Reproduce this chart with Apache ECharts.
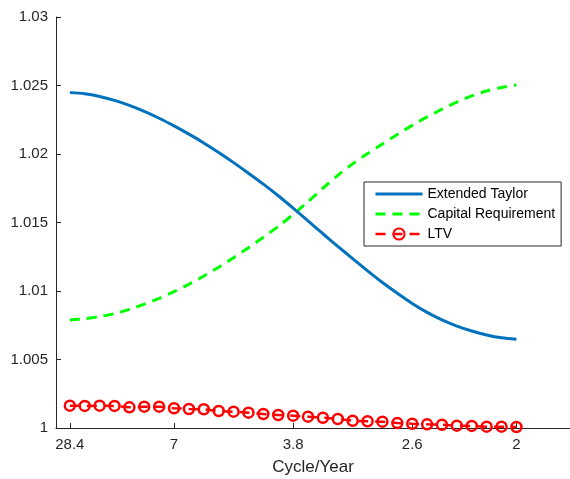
<!DOCTYPE html>
<html>
<head>
<meta charset="utf-8">
<script src="https://cdn.jsdelivr.net/npm/echarts@6/dist/echarts.min.js"></script>
<style>
  html, body { margin: 0; padding: 0; background: #fff; }
  #chart { width: 570px; height: 479px; }
</style>
</head>
<body>
<div id="chart"></div>
<script>
// Frequency grid index (31 points) and the cycle-length tick labels
const tickPositions = [0, 7, 15, 23, 30];
const tickLabels = ['28.4', '7', '3.8', '2.6', '2'];

const extendedTaylor = [
  1.02448, 1.02440, 1.02420, 1.02391, 1.02355, 1.02311, 1.02261, 1.02205,
  1.02145, 1.02081, 1.02011, 1.01937, 1.01860, 1.01780, 1.01695, 1.01605,
  1.01512, 1.01418, 1.01326, 1.01236, 1.01147, 1.01062, 1.00983, 1.00909,
  1.00844, 1.00789, 1.00744, 1.00708, 1.00679, 1.00658, 1.00647
];

const capitalRequirement = [
  1.00788, 1.00798, 1.00813, 1.00835, 1.00866, 1.00904, 1.00947, 1.00995,
  1.01049, 1.01109, 1.01174, 1.01243, 1.01316, 1.01392, 1.01472, 1.01558,
  1.01652, 1.01750, 1.01844, 1.01928, 1.02003, 1.02073, 1.02142, 1.02209,
  1.02271, 1.02327, 1.02379, 1.02424, 1.02460, 1.02486, 1.02504
];

const ltv = [
  1.00163, 1.00161, 1.00163, 1.00161, 1.00151, 1.00156, 1.00156, 1.00144,
  1.00139, 1.00137, 1.00124, 1.00119, 1.00112, 1.00102, 1.00095, 1.00090,
  1.00083, 1.00075, 1.00066, 1.00053, 1.00049, 1.00046, 1.00036, 1.00031,
  1.00027, 1.00024, 1.00017, 1.00015, 1.00010, 1.00010, 1.00007
];

const yTicks = { min: 1, max: 1.03, interval: 0.005 };

const pairs = arr => arr.map((v, i) => [i, v]);
const axisColor = '#262626';
const fontFamily = '"Liberation Sans", Arial, Helvetica, sans-serif';

const chart = echarts.init(document.getElementById('chart'), null, { renderer: 'canvas' });

chart.setOption({
  animation: false,
  backgroundColor: '#fff',
  textStyle: { fontFamily },
  grid: { left: 56, right: 0, top: 17, bottom: 51, containLabel: false, outerBoundsMode: 'none' },
  xAxis: {
    type: 'value',
    min: -0.93,
    max: 33.6,
    name: 'Cycle/Year',
    nameLocation: 'middle',
    nameGap: 31,
    nameTextStyle: { color: axisColor, fontSize: 17, fontFamily },
    axisLine: { show: true, onZero: false, lineStyle: { color: axisColor, width: 1 } },
    axisTick: { show: true, inside: true, length: 5, customValues: tickPositions, lineStyle: { color: axisColor } },
    axisLabel: {
      show: true,
      customValues: tickPositions,
      margin: 9,
      color: axisColor,
      fontSize: 15,
      fontFamily,
      formatter: v => tickLabels[tickPositions.indexOf(Math.round(v))] ?? ''
    },
    splitLine: { show: false }
  },
  yAxis: {
    type: 'value',
    min: yTicks.min,
    max: yTicks.max,
    interval: yTicks.interval,
    axisLine: { show: true, onZero: false, lineStyle: { color: axisColor, width: 1 } },
    axisTick: { show: true, inside: true, length: 5, lineStyle: { color: axisColor } },
    axisLabel: {
      margin: 8,
      color: axisColor,
      fontSize: 15,
      fontFamily,
      formatter: v => String(Number(v.toFixed(3)))
    },
    splitLine: { show: false }
  },
  legend: {
    orient: 'vertical',
    left: 364,
    top: 182,
    padding: [5, 6, 5, 10],
    itemWidth: 47,
    itemHeight: 14,
    itemGap: 6,
    backgroundColor: '#fff',
    borderColor: axisColor,
    borderWidth: 1,
    borderRadius: 0,
    textStyle: { color: '#000', fontSize: 14, fontFamily },
    data: [
      { name: 'Extended Taylor', itemStyle: { opacity: 0 }, lineStyle: { width: 3 } },
      { name: 'Capital Requirement', itemStyle: { opacity: 0 }, lineStyle: { width: 3 } },
      { name: 'LTV', lineStyle: { width: 2.5 } }
    ]
  },
  series: [
    {
      name: 'Extended Taylor',
      type: 'line',
      data: pairs(extendedTaylor),
      showSymbol: false,
      symbol: 'none',
      smooth: 0.3,
      lineStyle: { color: '#0072BD', width: 3 },
      itemStyle: { color: '#0072BD' },
      z: 3
    },
    {
      name: 'Capital Requirement',
      type: 'line',
      data: pairs(capitalRequirement),
      showSymbol: false,
      symbol: 'none',
      smooth: 0.3,
      lineStyle: { color: '#00FF00', width: 3, type: [10, 7] },
      itemStyle: { color: '#00FF00' },
      z: 2
    },
    {
      name: 'LTV',
      type: 'line',
      data: pairs(ltv),
      symbol: 'circle',
      symbolSize: 10,
      showSymbol: true,
      lineStyle: { color: '#FF0000', width: 2.5, type: [10, 7] },
      itemStyle: { color: 'rgba(255,255,255,0)', borderColor: '#FF0000', borderWidth: 2.5 },
      z: 4
    }
  ]
});
</script>
</body>
</html>
